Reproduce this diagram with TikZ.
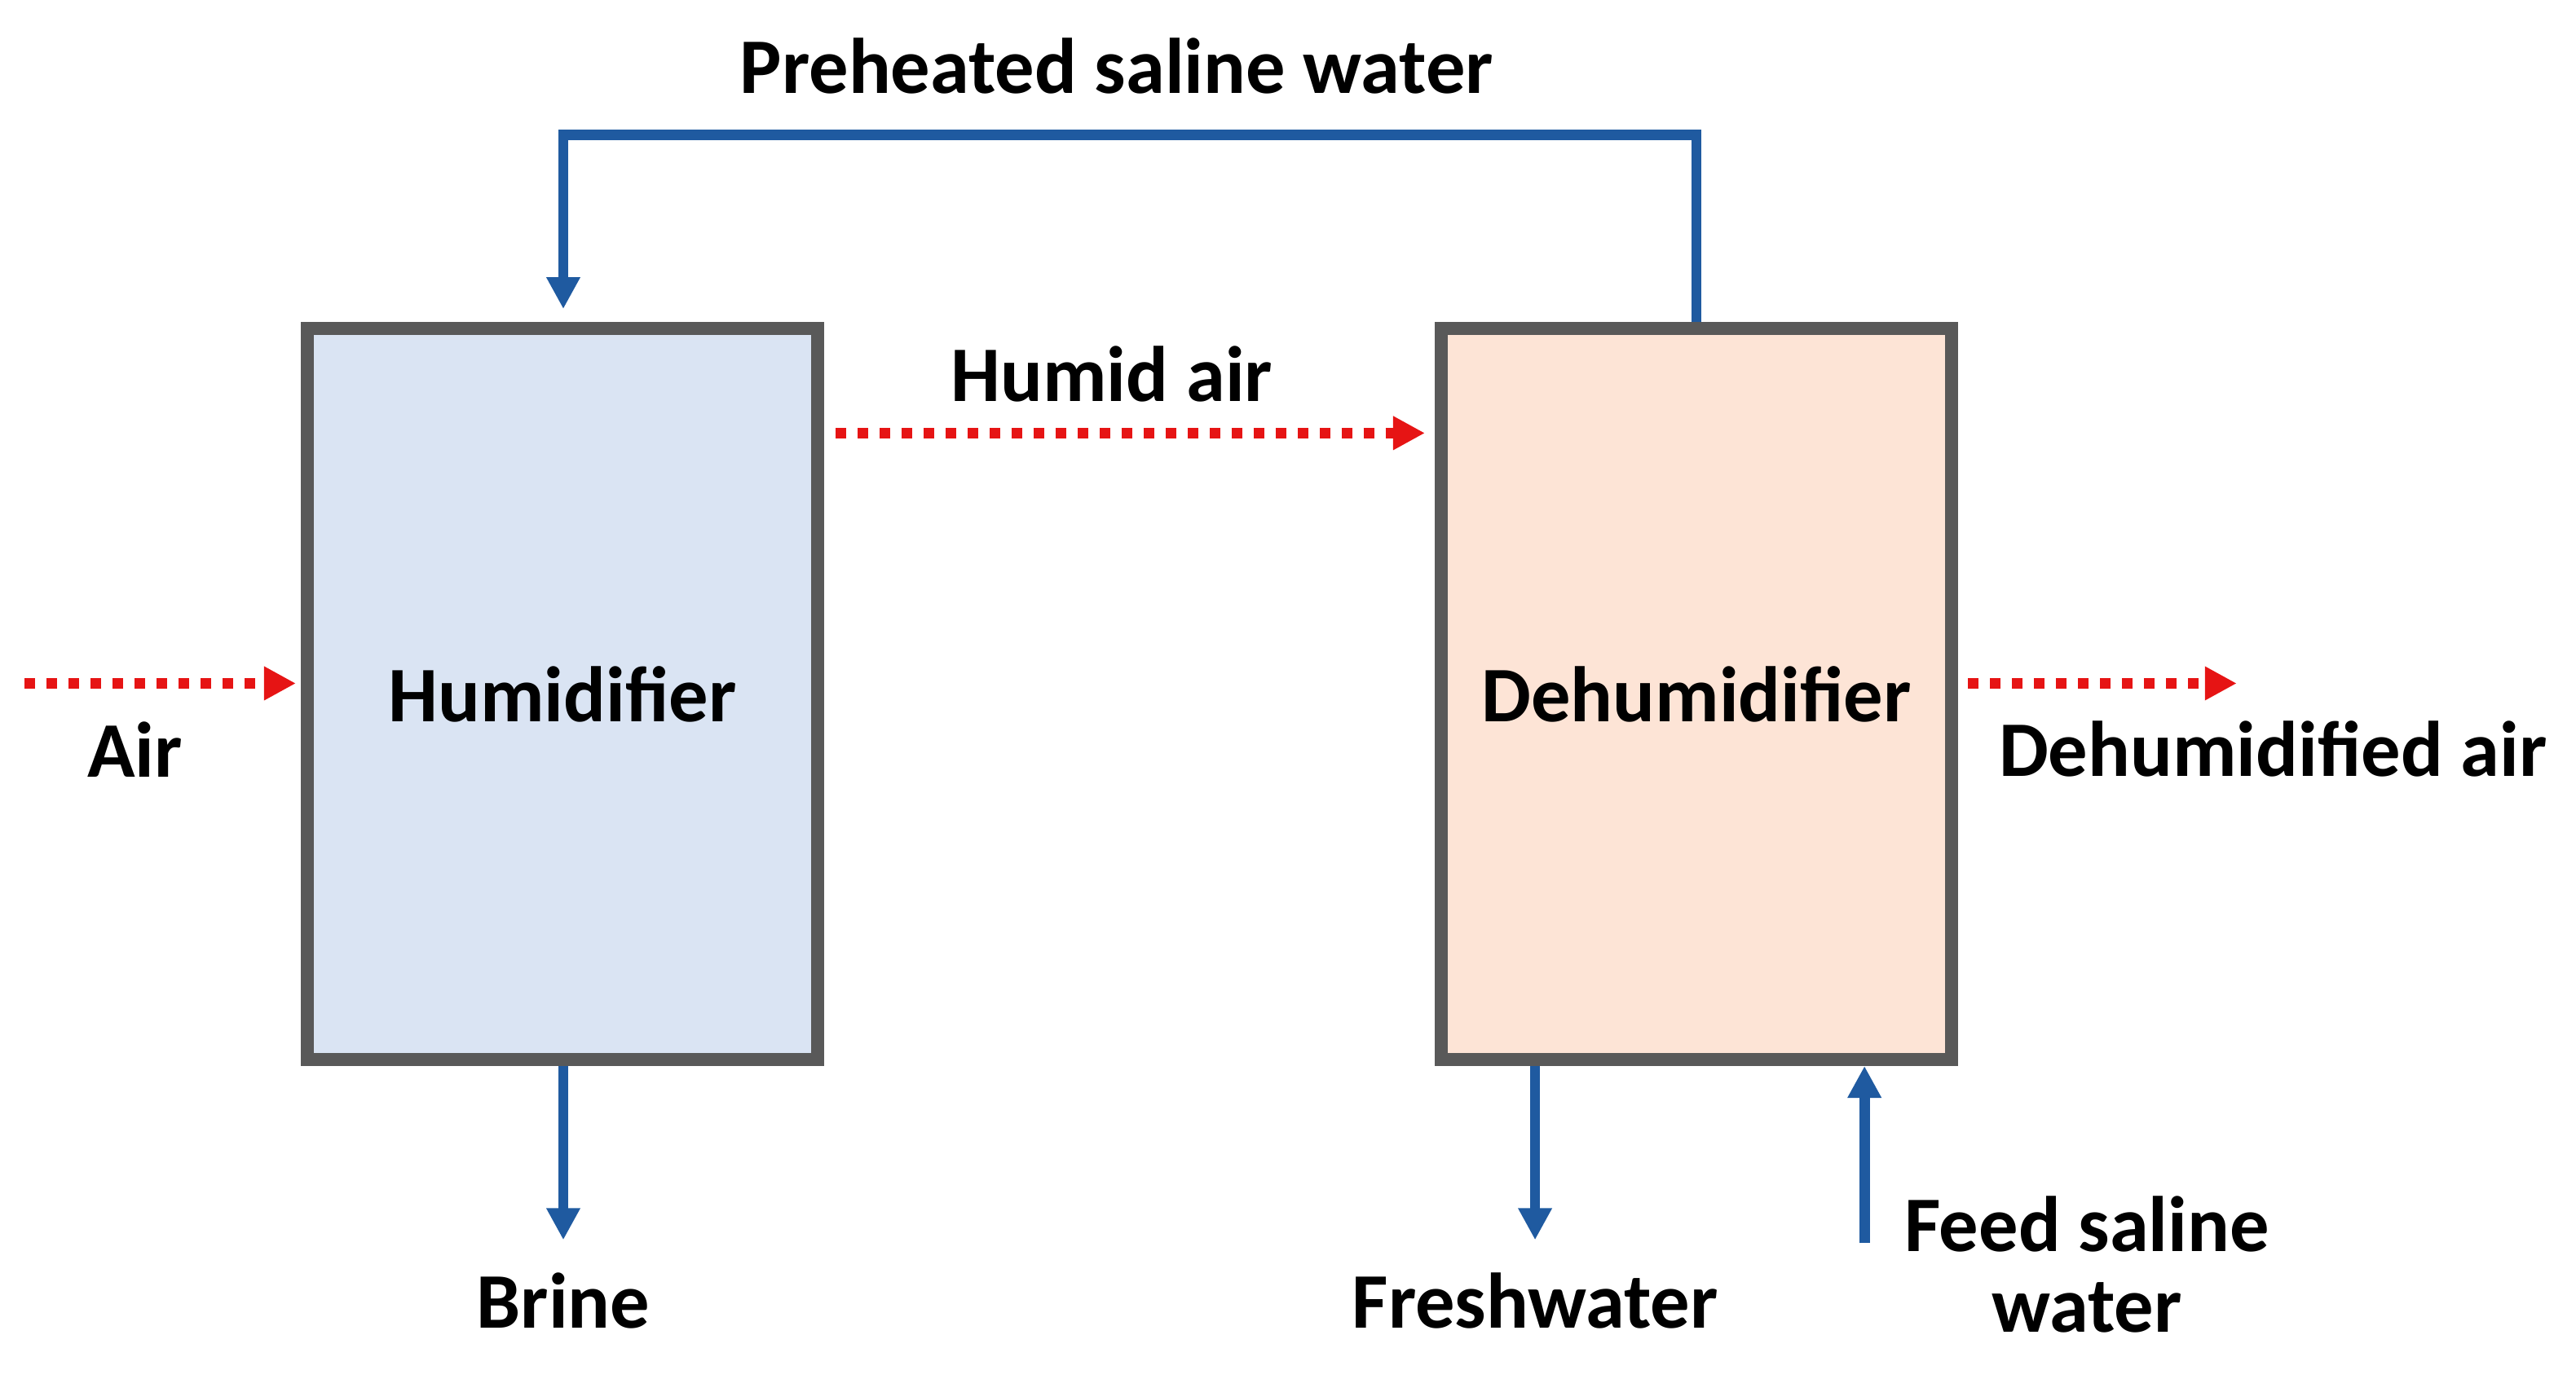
\documentclass[tikz,border=0pt]{standalone}
\usepackage{fontspec}
\setmainfont{Carlito}
\usetikzlibrary{arrows.meta,positioning,calc}
\definecolor{pipeblue}{RGB}{31,90,160}
\definecolor{airred}{RGB}{230,20,20}
\definecolor{humfill}{RGB}{218,228,243}
\definecolor{dehfill}{RGB}{253,228,214}
\begin{document}
\begin{tikzpicture}[>={Triangle[length=5.5pt,width=5.5pt]},font=\fontsize{13.6}{15}\selectfont\bfseries]
\useasboundingbox (0,0) rectangle (15.64,8.37);
\tikzset{unit/.style={draw=black!65,line width=2.2pt,minimum width=3.10cm,minimum height=4.44cm,inner sep=0pt}}
\tikzset{water/.style={->,draw=pipeblue,line width=1.8pt}}
\tikzset{air/.style={->,draw=airred,line width=1.8pt,dotted}}
  \node[unit,fill=humfill] (H) at (3.415,4.155) {Humidifier};
  \node[unit,fill=dehfill] (D) at (10.30,4.155) {Dehumidifier};
  \coordinate (airin)  at (0.15,4.22);
  \coordinate (airout) at (13.58,4.22);
  \coordinate (top1)   at (10.30,7.55);
  \coordinate (top2)   at (3.42,7.55);
  \coordinate (brine)  at (3.42,0.84);
  \coordinate (fresh)  at (9.32,0.84);
  \coordinate (feed)   at (11.32,0.82);
  \node (lpre)   at (6.78,7.97) {Preheated saline water};
  \node (lhum)   at (6.75,6.10) {Humid air};
  \node (lair)   at (0.82,3.82) {Air};
  \node (ldeh)   at (13.80,3.82) {Dehumidified air};
  \node (lbrine) at (3.42,0.47) {Brine};
  \node (lfresh) at (9.32,0.47) {Freshwater};
  \node[align=center] (lfeed) at (12.67,0.69) {Feed saline\\[-1pt]water};
\draw[water] (D.north -| top1) -- (top1) -- (top2) -- ($(H.north -| top2)+(0,0.08)$);
\draw[water] (H.south -| brine) -- (brine);
\draw[water] (D.south -| fresh) -- (fresh);
\draw[water] (feed) -- (D.south -| feed);
\draw[air] (H.east |- 0,5.74) ++(0.07,0) -- ($(D.west |- 0,5.74)+(-0.06,0)$);
\draw[air] (airin) -- ($(H.west |- airin)+(-0.03,0)$);
\draw[air] ($(D.east |- airout)+(0.06,0)$) -- (airout);
\end{tikzpicture}
\end{document}
